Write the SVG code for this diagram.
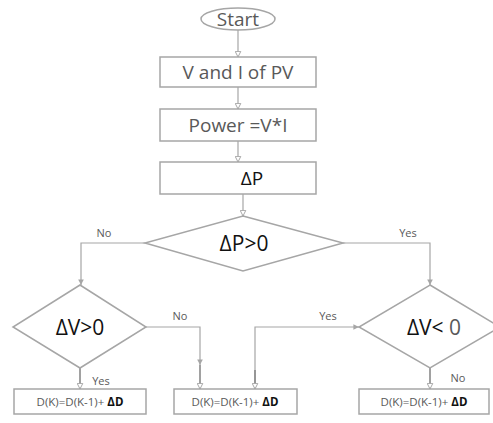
<svg xmlns="http://www.w3.org/2000/svg" width="493" height="423" viewBox="0 0 493 423">
<style>
.s{fill:#fff;stroke:#a6a6a6;stroke-width:1.5}
.c{fill:none;stroke:#a6a6a6;stroke-width:1.2}
.t{font-family:"Open Sans","Liberation Sans",sans-serif;fill:#595959;text-anchor:middle}
.k{fill:#111}
.big{font-size:19px}
.dia{font-size:21px}
.lab{font-size:11px}
.box{font-size:11.5px}
</style>
<defs>
<marker id="open" viewBox="0 0 10 10" refX="9" refY="5" markerWidth="7" markerHeight="7" orient="auto" markerUnits="userSpaceOnUse">
<path d="M1,1 L9,5 L1,9 Z" fill="#fff" stroke="#a6a6a6" stroke-width="1.4"/>
</marker>
<marker id="fill" viewBox="0 0 10 10" refX="9" refY="5" markerWidth="7" markerHeight="7" orient="auto" markerUnits="userSpaceOnUse">
<path d="M1,1 L9,5 L1,9 Z" fill="#a6a6a6"/>
</marker>
</defs>
<g id="connectors">
<line class="c" x1="238" y1="30" x2="238" y2="57" marker-end="url(#open)"/>
<line class="c" x1="238" y1="87" x2="238" y2="109" marker-end="url(#open)"/>
<line class="c" x1="238" y1="141" x2="238" y2="162" marker-end="url(#open)"/>
<line class="c" x1="243" y1="194" x2="243" y2="216" marker-end="url(#open)"/>
<polyline class="c" points="145,243 81,243 81,285" marker-end="url(#fill)"/>
<polyline class="c" points="343,243 430,243 430,285" marker-end="url(#fill)"/>
<polyline class="c" points="146,327 200,327 200,365" marker-end="url(#fill)"/>
<line class="c" x1="200" y1="365" x2="200" y2="389" style="stroke:#8a8a8a;stroke-width:1.6" marker-end="url(#open)"/>
<polyline class="c" points="255,389 255,327 359,327" marker-end="url(#fill)"/>
<line class="c" x1="255" y1="370" x2="255" y2="389" style="stroke:#8a8a8a;stroke-width:1.6" marker-end="url(#open)"/>
<line class="c" x1="80" y1="368" x2="80" y2="389" style="stroke:#8a8a8a;stroke-width:1.6" marker-end="url(#open)"/>
<line class="c" x1="430" y1="368" x2="430" y2="389" style="stroke:#8a8a8a;stroke-width:1.6" marker-end="url(#open)"/>
<text class="t lab" x="104" y="237">No</text>
<text class="t lab" x="408" y="237">Yes</text>
<text class="t lab" x="180" y="320">No</text>
<text class="t lab" x="328" y="320">Yes</text>
<text class="t lab" x="101" y="385">Yes</text>
<text class="t lab" x="458" y="382">No</text>
</g>
<g id="start">
<ellipse class="s" cx="238" cy="19" rx="37" ry="11"/>
<text class="t big" x="238" y="26">Start</text>
</g>
<g id="vi">
<rect class="s" x="160" y="57" width="156" height="30"/>
<text class="t big" x="238" y="79">V and I of PV</text>
</g>
<g id="power">
<rect class="s" x="160" y="109" width="156" height="32"/>
<text class="t big" x="238" y="132">Power =V*I</text>
</g>
<g id="dp">
<rect class="s" x="160" y="162" width="156" height="32"/>
<text class="t big k" x="252" y="185">ΔP</text>
</g>
<g id="dpgt0">
<polygon class="s" points="243,216 343,243 243,271 145,243"/>
<text class="t dia k" x="244" y="251">ΔP&gt;0</text>
</g>
<g id="dvgt0">
<polygon class="s" points="80,285 146,327 80,368 13,327"/>
<text class="t dia k" x="80" y="335">ΔV&gt;0</text>
</g>
<g id="dvlt0">
<polygon class="s" points="430,285 500,327 430,368 359,327"/>
<text class="t dia k" x="434" y="335">ΔV&lt; <tspan fill="#595959">0</tspan></text>
</g>
<g id="box1">
<rect class="s" x="14" y="389" width="132" height="25"/>
<text class="t box" x="80" y="406">D(K)=D(K-1)+ <tspan class="k" font-weight="bold">ΔD</tspan></text>
</g>
<g id="box2">
<rect class="s" x="174" y="389" width="123" height="25"/>
<text class="t box" x="235" y="406">D(K)=D(K-1)+ <tspan class="k" font-weight="bold">ΔD</tspan></text>
</g>
<g id="box3">
<rect class="s" x="359" y="389" width="130" height="25"/>
<text class="t box" x="424" y="406">D(K)=D(K-1)+ <tspan class="k" font-weight="bold">ΔD</tspan></text>
</g>
</svg>
